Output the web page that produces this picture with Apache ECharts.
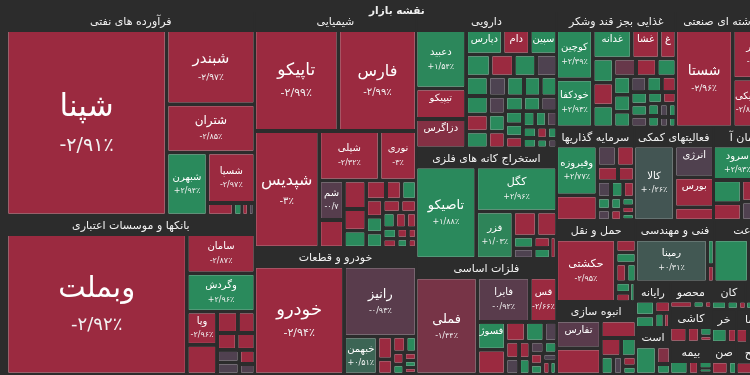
<!DOCTYPE html>
<html>
<head>
<meta charset="utf-8">
<style>
  html, body { margin: 0; padding: 0; background: #2c2c2c; }
  #chart { width: 750px; height: 375px; }
</style>
<script src="https://cdn.jsdelivr.net/npm/echarts@6/dist/echarts.min.js"></script>
</head>
<body>
<div id="chart"></div>
<script>
'use strict';

// sectors, in the order the map lays them out (size = market weight)
const sectorNames = [
  'فرآورده های نفتی', 'بانکها و موسسات اعتباری', 'شیمیایی', 'خودرو و قطعات',
  'دارویی', 'استخراج کانه های فلزی', 'فلزات اساسی', 'غذایی بجز قند وشکر',
  'چند رشته ای صنعتی', 'سرمایه گذاریها', 'فعالیتهای کمکی', 'سیمان آهک گچ',
  'حمل و نقل', 'انبوه سازی', 'فنی و مهندسی', 'زراعت',
  'رایانه', 'استخراج نفت گاز', 'محصولات فلزی', 'کاشی و سرامیک',
  'بیمه و صندوق بازنشستگی', 'کانی غیر فلزی', 'لاستیک و پلاستیک', 'خرده فروشی',
  'صنایع دستی', 'ماشین آلات', 'واسطه گری مالی', 'محصولات کاغذی', 'ساخت دستگاه',
];
const sectorSizes = [
  50141, 39026, 37835, 20286, 19040, 15400, 16100, 13680,
  12312, 7176, 7360, 6440, 6396, 5694, 4800, 4200,
  1550, 1580, 1080, 1400, 1320, 925, 1000, 814, 777, 880, 680, 920, 520,
];

// stocks per sector (unnamed = too small to carry a label)
const stockNames = [
  ['شپنا', 'شبندر', 'شتران', 'شبهرن', 'شسپا'],
  ['وبملت', 'سامان', 'وگردش', 'وپارس'],
  ['تاپیکو', 'فارس', 'شپدیس', 'شپلی', 'نوری', 'شمواد'],
  ['خودرو', 'رانیز', 'خبهمن'],
  ['دعبید', 'تیپیکو', 'دزاگرس', 'دپارس', 'دامین', 'سپین'],
  ['تاصیکو', 'کگل', 'فزر'],
  ['فملی', 'فایرا', 'فسبزوار', 'فسوژ'],
  ['کوچین', 'خودکفا', 'غدانه', 'غشاذر', 'غمهرا'],
  ['شستا', 'ومدیر', 'وپیکی'],
  ['وفیروزه'],
  ['کالا', 'انرژی', 'بورس', 'فرابورس'],
  ['سرود'],
  ['حکشتی'],
  ['تفارس'],
  ['رمپنا'],
  [], [], [], [], [], [], [], [], [], [], [], [], [], [],
];

const stockSizes = [
  [27100, 6000, 3900, 2350, 2200, 300, 100, 80, 70],
  [22700, 2400, 2350, 900, 800, 400, 330, 300, 280, 250, 240, 200, 150],
  [7400, 6900, 6600, 2600, 1600, 850, 600, 550, 420, 330, 330, 260, 250, 250, 230, 220,
    200, 180, 170, 150, 140, 130, 110, 100, 90, 80, 70],
  [8400, 4400, 1100, 300, 200, 180, 150, 120, 100, 90, 80, 70],
  [2300, 1200, 1150, 700, 520, 520, 420, 400, 380, 360, 340, 320, 300, 290, 280, 270,
    260, 250, 240, 230, 220, 210, 200, 190, 180, 170, 160, 150, 140, 130, 120, 110,
    100, 90, 80, 70],
  [4600, 3000, 1450, 480, 420, 200, 180, 160, 150, 120],
  [4750, 1850, 960, 620, 550, 310, 290, 200, 180, 170, 150, 140, 130, 120, 110, 100, 90, 80, 70],
  [1370, 1330, 840, 600, 360, 380, 360, 340, 300, 280, 260, 240, 220, 200, 190, 180,
    170, 160, 150, 140, 130, 120, 110, 100, 90, 80, 70, 60],
  [5225, 2300, 1300, 600, 400],
  [1650, 850, 320, 300, 250, 200, 180, 160, 150, 130, 120, 110, 100, 90, 80, 70],
  [2600, 1050, 1000, 450],
  [1330, 600, 525, 400, 340, 300, 250, 200, 150, 120],
  [3300, 240, 200, 180, 160, 140, 120, 100],
  [1100, 1050, 550, 330, 250, 200, 150, 120, 100],
  [2500, 150, 100],
  [1400, 500, 400, 300, 200],
  [300, 250, 200, 150, 100],
  [600, 250, 150],
  [300, 150, 100],
  [350, 250, 150, 100],
  [350, 200, 150, 100],
  [200, 150, 100],
  [250, 150, 100],
  [200, 120],
  [200, 100],
  [200, 150, 100],
  [150, 100],
  [200, 150],
  [120, 80],
];

// daily change, percent
const stockChanges = [
  [-2.91, -2.97, -2.85, 2.94, -2.97, -2.9, 2.9, -2.8, -0.1],
  [-2.92, -2.87, 2.96, -2.96, -2.9, -2.9, -2.9, -2.9, -2.9, -0.3, -0.2, -2.9, -0.4],
  [-2.99, -2.99, -3, -2.32, -3, -0.75, -2.9, -2.9, -2.9, 2.9, -2.9, -2.9, 2.9, -2.9, 2.9, 2.9,
    -2.9, -2.9, 2.9, -2.9, -2.9, 2.9, -2.9, -2.9, 2.9, -2.9, -2.9],
  [-2.94, -0.93, 0.51, -2.9, -2.9, -2.9, 2.9, -2.9, 2.9, -2.9, 2.9, -2.9],
  [1.54, -2.91, -1.65, 2.98, -2.95, 2.97, 2.9, -2.9, 2.9, -0.2, 2.9, 2.9, -2.9, 2.9, -0.1, 2.9,
    2.9, 2.9, -0.3, 2.9, -2.9, 2.9, 2.9, -0.2, 2.9, 2.9, -2.9, 2.9, 2.9, -0.4, 2.9, 2.9,
    -2.9, 2.9, 2.9, -0.2],
  [1.88, 2.96, 1.03, -2.9, -2.9, 2.9, -0.2, -2.9, 2.9, -2.9],
  [-1.44, -0.92, -2.66, 2.96, -2.9, -2.9, 2.9, -0.3, -2.9, -0.2, -2.9, 2.9, -0.4, 2.9, -2.9, 2.9, -0.1, -2.9, 2.9],
  [2.39, 2.93, 2.93, -2.81, -2.8, 2.9, -2.9, 2.9, -1.2, -2.9, 2.9, 2.9, 2.9, 2.9, -0.2, 2.9,
    -2.9, 2.9, 2.9, -0.3, 2.9, -2.9, 2.9, 2.9, -0.1, 2.9, -0.2, 2.9],
  [-2.96, -2.85, -2.8, -2.9, 2.9],
  [2.77, -2.9, -0.4, -2.9, -2.9, -2.9, -0.2, 2.9, -2.9, 2.9, -0.3, 2.9, -2.9, 2.9, -2.9, 2.9],
  [0.26, -0.33, -2.46, -2.8],
  [2.93, -2.9, 2.9, -2.9, -2.9, -0.3, 2.9, -2.9, 2.9, -2.9],
  [-2.95, -2.9, 2.9, -2.9, 2.9, 2.9, -2.9, 2.9],
  [-0.96, -2.9, -2.9, -2.9, 2.9, 2.9, -0.2, -2.9, 2.9],
  [0.31, 2.9, -2.9],
  [2.9, -2.9, 2.9, -0.5, 2.9],
  [2.9, 2.9, -2.9, 2.9, -2.9],
  [2.8, -1.6, 2.9],
  [-2.9, 2.9, -2.9],
  [-2.9, -2.9, 2.9, -2.9],
  [2.9, -2.9, 2.9, 2.9],
  [2.9, 2.9, -2.9],
  [2.9, -2.9, 2.9],
  [2.9, -2.9],
  [-2.9, 2.9],
  [-2.9, 2.9, 2.9],
  [2.9, -2.9],
  [-2.9, 2.9],
  [2.9, -2.9],
];

const FONT = 'DejaVu Sans';
const BG = '#2c2c2c';
const faDigits = '۰۱۲۳۴۵۶۷۸۹';

const formatPct = (v) => {
  const abs = Math.abs(v);
  const txt = (Number.isInteger(abs) ? String(abs) : abs.toFixed(2))
    .replace('.', '/')
    .replace(/\d/g, d => faDigits[d]);
  return (v < 0 ? '-' : '+') + txt + '٪';
};

// label sizes grow with the tile
const nameSize = (v) => Math.max(10, Math.min(31, Math.round(Math.sqrt(v) / 5.2)));
const pctSize = (f) => Math.max(8, Math.round(f * 0.62));
const nameLine = (s) => Math.round(s * 1.5);
const pctLine = (s) => Math.round(s * 1.6);

const rich = {};
for (let s = 8; s <= 31; s++) {
  rich['n' + s] = { fontSize: s, lineHeight: nameLine(s), color: '#fff', fontFamily: FONT };
  rich['p' + s] = { fontSize: s, lineHeight: pctLine(s), color: '#f2f2f2', fontFamily: FONT };
}

const data = sectorNames.map((sector, i) => ({
  name: sector,
  value: [sectorSizes[i], 0],
  children: stockSizes[i].map((size, j) => ({
    id: `s${i}_${j}`,
    name: stockNames[i][j] || '',
    value: [size, stockChanges[i][j]],
  })),
}));

const chart = echarts.init(document.getElementById('chart'));

const option = {
  backgroundColor: BG,
  animation: false,
  title: {
    text: 'نقشه بازار',
    left: 364,
    top: 1,
    textStyle: { color: '#f0f0f0', fontSize: 10.5, fontWeight: 'bold', fontFamily: FONT },
  },
  series: [{
    type: 'treemap',
    left: 8,
    top: 12,
    width: 774,
    height: 361,
    roam: false,
    nodeClick: false,
    sort: false,
    squareRatio: 1,
    breadcrumb: { show: false },
    upperLabel: {
      show: true,
      height: 20,
      position: 'inside',
      padding: 0,
      formatter: '{b}',
      color: '#f2f2f2',
      fontSize: 11,
      fontFamily: FONT,
      ellipsis: '',
    },
    emphasis: { disabled: true },
    levels: [
      {
        itemStyle: { color: BG, borderColor: BG, borderWidth: 0, gapWidth: 2 },
        upperLabel: { show: false },
      },
      {
        itemStyle: { color: BG, borderColor: BG, borderWidth: 0.5, gapWidth: 4 },
        color: ['#9b2a40', '#9b2a40', '#5a3b4c', '#4b4451', '#2e8459', '#2a8a5c', '#2a8a5c'],
        colorMappingBy: 'value',
        visualDimension: 1,
        visualMin: -3,
        visualMax: 3,
      },
      {
        itemStyle: { borderWidth: 0, gapWidth: 0 },
        label: {
          show: true,
          position: 'inside',
          padding: 0,
          ellipsis: '',
          formatter: (p) => {
            if (!p.name) return '';
            const f = nameSize(p.value[0]);
            return `{n${f}|${p.name}}\n{p${pctSize(f)}|${formatPct(p.value[1])}}`;
          },
          rich,
        },
      },
    ],
    data,
  }],
};

chart.setOption(option);

// treemap text boxes fill the whole tile and start at its top,
// so push each label down to sit in the middle of its tile
const tree = chart.getModel().getSeriesByIndex(0).getData().tree;
const padTop = {};
tree.eachNode((node) => {
  const lay = node.getLayout();
  if (node.depth !== 2 || !lay) return;
  const f = nameSize(node.getValue(0));
  const textH = nameLine(f) + pctLine(pctSize(f));
  padTop[node.getId()] = Math.max(0, Math.floor((lay.height - textH) / 2));
});
data.forEach((sector) => {
  sector.children.forEach((stock) => {
    stock.label = { padding: [padTop[stock.id] || 0, 0, 0, 0] };
  });
});
chart.setOption({ series: [{ data }] });
</script>
</body>
</html>
